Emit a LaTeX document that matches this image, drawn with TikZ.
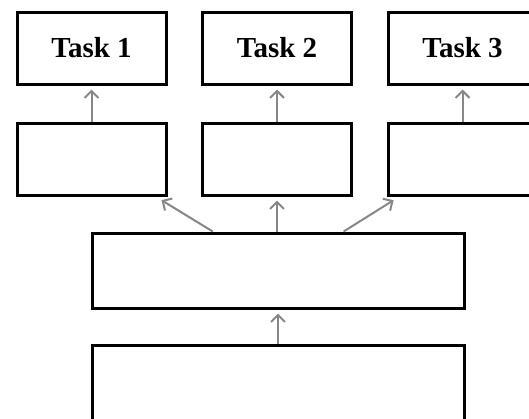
\documentclass[tikz,border=0pt]{standalone}
\usepackage{fontspec}
\setmainfont{Liberation Serif}
\usetikzlibrary{arrows.meta,calc}
\begin{document}
\begin{tikzpicture}[x=1pt,y=-1pt,
  box/.style={draw=black,line width=3pt,fill=white,inner sep=0pt},
  conn/.style={draw=black!47,line width=2pt,-{Straight Barb[length=7pt,width=14pt]},shorten >=4pt},
  lbl/.style={font=\fontsize{29}{34}\selectfont\bfseries}]
\useasboundingbox (0,0) rectangle (529,418);
\clip (0,0) rectangle (529,418);
\node[box,lbl,minimum width=149pt,minimum height=72pt] (t1) at (91.5,48) {Task 1};
\node[box,lbl,minimum width=149pt,minimum height=72pt] (t2) at (277,48) {Task 2};
\node[box,lbl,minimum width=149pt,minimum height=72pt] (t3) at (462.5,48) {Task 3};
\node[box,minimum width=149pt,minimum height=72pt] (m1) at (91.5,159) {};
\node[box,minimum width=149pt,minimum height=72pt] (m2) at (277,159) {};
\node[box,minimum width=149pt,minimum height=72pt] (m3) at (462.5,159) {};
\node[box,minimum width=372pt,minimum height=75pt] (w) at (278,270.5) {};
\node[box,minimum width=372pt,minimum height=75pt] (b) at (278,382.5) {};
\draw[conn] (m1.north) -- (t1.south);
\draw[conn] (m2.north) -- (t2.south);
\draw[conn] (m3.north) -- (t3.south);
\draw[conn,shorten >=7pt] ($(w.north west)!0.326!(w.north east)$) -- ($(m1.south east)+(-12,0)$);
\draw[conn] (w.north -| m2.south) -- (m2.south);
\draw[conn,shorten >=7pt] ($(w.north west)!0.675!(w.north east)$) -- ($(m3.south west)+(13,0)$);
\draw[conn] (b.north -| w.south) -- (w.south);
\end{tikzpicture}
\end{document}
